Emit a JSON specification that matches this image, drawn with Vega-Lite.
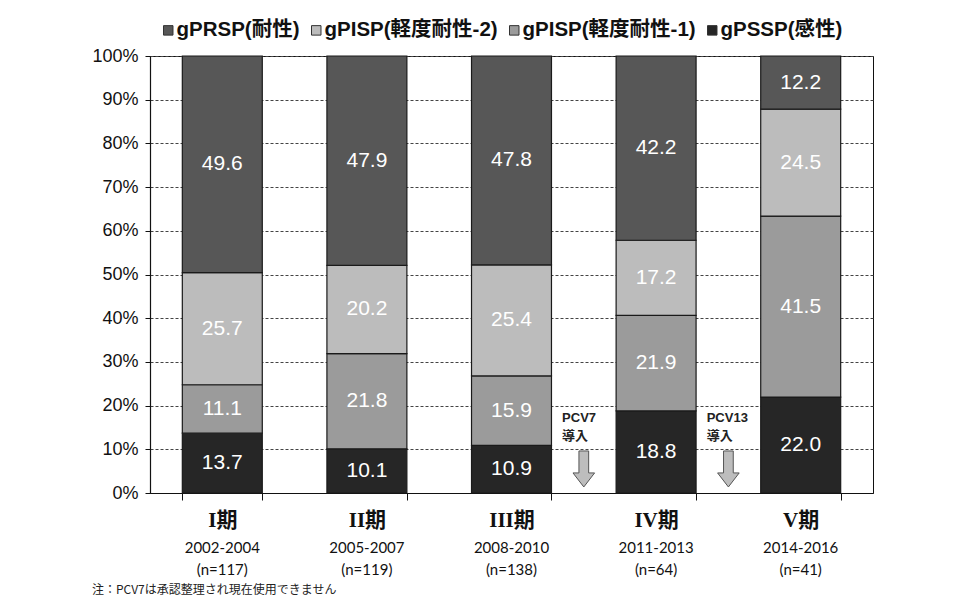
{
  "$schema": "https://vega.github.io/schema/vega-lite/v6.json",
  "width": 723,
  "height": 437,
  "autosize": {"type": "none"},
  "padding": {"left": 150, "top": 56, "right": 104, "bottom": 119},
  "background": "white",
  "datasets": {
    "shares": [
      {"period": "I期|2002-2004|(n=117)", "series": "gPSSP(感性)", "order": 1, "pct": 13.7},
      {"period": "I期|2002-2004|(n=117)", "series": "gPISP(軽度耐性-1)", "order": 2, "pct": 11.1},
      {"period": "I期|2002-2004|(n=117)", "series": "gPISP(軽度耐性-2)", "order": 3, "pct": 25.7},
      {"period": "I期|2002-2004|(n=117)", "series": "gPRSP(耐性)", "order": 4, "pct": 49.6},
      {"period": "II期|2005-2007|(n=119)", "series": "gPSSP(感性)", "order": 1, "pct": 10.1},
      {"period": "II期|2005-2007|(n=119)", "series": "gPISP(軽度耐性-1)", "order": 2, "pct": 21.8},
      {"period": "II期|2005-2007|(n=119)", "series": "gPISP(軽度耐性-2)", "order": 3, "pct": 20.2},
      {"period": "II期|2005-2007|(n=119)", "series": "gPRSP(耐性)", "order": 4, "pct": 47.9},
      {"period": "III期|2008-2010|(n=138)", "series": "gPSSP(感性)", "order": 1, "pct": 10.9},
      {"period": "III期|2008-2010|(n=138)", "series": "gPISP(軽度耐性-1)", "order": 2, "pct": 15.9},
      {"period": "III期|2008-2010|(n=138)", "series": "gPISP(軽度耐性-2)", "order": 3, "pct": 25.4},
      {"period": "III期|2008-2010|(n=138)", "series": "gPRSP(耐性)", "order": 4, "pct": 47.8},
      {"period": "IV期|2011-2013|(n=64)", "series": "gPSSP(感性)", "order": 1, "pct": 18.8},
      {"period": "IV期|2011-2013|(n=64)", "series": "gPISP(軽度耐性-1)", "order": 2, "pct": 21.9},
      {"period": "IV期|2011-2013|(n=64)", "series": "gPISP(軽度耐性-2)", "order": 3, "pct": 17.2},
      {"period": "IV期|2011-2013|(n=64)", "series": "gPRSP(耐性)", "order": 4, "pct": 42.2},
      {"period": "V期|2014-2016|(n=41)", "series": "gPSSP(感性)", "order": 1, "pct": 22.0},
      {"period": "V期|2014-2016|(n=41)", "series": "gPISP(軽度耐性-1)", "order": 2, "pct": 41.5},
      {"period": "V期|2014-2016|(n=41)", "series": "gPISP(軽度耐性-2)", "order": 3, "pct": 24.5},
      {"period": "V期|2014-2016|(n=41)", "series": "gPRSP(耐性)", "order": 4, "pct": 12.2}
    ],
    "events": [
      {"period": "IV期|2011-2013|(n=64)", "label": "PCV7\n導入"},
      {"period": "V期|2014-2016|(n=41)", "label": "PCV13\n導入"}
    ]
  },
  "title": {
    "text": "注：PCV7は承認整理され現在使用できません",
    "orient": "bottom",
    "anchor": "start",
    "frame": "group",
    "dx": -58,
    "offset": 8,
    "font": "Noto Sans CJK JP",
    "fontSize": 12,
    "fontWeight": "normal",
    "color": "#222"
  },
  "config": {
    "view": {"stroke": "#111", "strokeWidth": 1},
    "axisY": {
      "grid": true, "gridColor": "#444", "gridWidth": 1, "gridOpacity": 1, "gridDash": [3, 2],
      "domainColor": "#111", "domainWidth": 1.2,
      "tickColor": "#111", "tickSize": 5, "tickWidth": 1,
      "labelFont": "Liberation Sans", "labelFontSize": 18, "labelColor": "#111", "labelPadding": 7
    }
  },
  "resolve": {"axis": {"x": "independent"}},
  "layer": [
    {
      "data": {"name": "shares"},
      "transform": [
        {"stack": "pct", "groupby": ["period"], "sort": [{"field": "order"}], "offset": "normalize", "as": ["y0", "y1"]}
      ],
      "mark": {"type": "bar", "stroke": "#1a1a1a", "strokeWidth": 1.2},
      "encoding": {
        "x": {
          "field": "period", "type": "nominal", "sort": null,
          "scale": {"paddingInner": 0.447, "paddingOuter": 0.2235},
          "axis": {
            "title": null, "labelAngle": 0,
            "labelExpr": "datum.value ? split(datum.value, '|')[0] : ''",
            "labelFont": "Liberation Serif, Noto Sans CJK JP",
            "labelFontWeight": "bold", "labelFontSize": 21, "labelColor": "#111",
            "tickBand": "extent", "tickSize": 7, "tickColor": "#111",
            "domainColor": "#111", "domainWidth": 1.2, "labelPadding": 9
          }
        },
        "y": {
          "field": "y0", "type": "quantitative",
          "scale": {"domain": [0, 1]},
          "axis": {"title": null, "format": ".0%", "tickCount": 10, "grid": true, "gridColor": "#444", "gridDash": [3, 2]}
        },
        "y2": {"field": "y1"},
        "color": {
          "field": "series", "type": "nominal",
          "scale": {
            "domain": ["gPRSP(耐性)", "gPISP(軽度耐性-2)", "gPISP(軽度耐性-1)", "gPSSP(感性)"],
            "range": ["#575757", "#bcbcbc", "#9b9b9b", "#262626"]
          },
          "legend": {
            "orient": "none", "legendX": 8, "legendY": -36,
            "direction": "horizontal", "columns": 4, "title": null,
            "symbolType": "square", "symbolSize": 90,
            "symbolStrokeColor": "#333", "symbolStrokeWidth": 1,
            "labelFont": "Liberation Sans, Noto Sans CJK JP", "labelFontSize": 20.5,
            "labelFontWeight": "bold", "labelColor": "#111", "labelLimit": 300,
            "columnPadding": 6, "labelOffset": -2
          }
        }
      }
    },
    {
      "data": {"name": "shares"},
      "transform": [
        {"stack": "pct", "groupby": ["period"], "sort": [{"field": "order"}], "offset": "normalize", "as": ["y0", "y1"]},
        {"fold": ["y0", "y1"], "as": ["edge", "pos"]}
      ],
      "mark": {"type": "text", "color": "white", "font": "Liberation Sans", "fontSize": 21, "baseline": "middle"},
      "encoding": {
        "x": {
          "field": "period", "type": "nominal", "sort": null,
          "axis": {
            "title": null, "orient": "bottom", "labelAngle": 0,
            "labelExpr": "datum.value ? slice(split(datum.value, '|'), 1) : ''",
            "domain": false, "ticks": false,
            "labelFont": "Lato", "labelFontSize": 15, "labelLineHeight": 22,
            "labelPadding": 47, "labelColor": "#111"
          }
        },
        "y": {"aggregate": "mean", "field": "pos", "type": "quantitative"},
        "detail": {"field": "series"},
        "text": {"field": "pct", "type": "quantitative", "format": ".1f"}
      }
    },
    {
      "data": {"name": "events"},
      "mark": {
        "type": "point",
        "shape": "M-0.27,-1L0.27,-1L0.27,0.22L0.6,0.22L0,1L-0.6,0.22L-0.27,0.22Z",
        "size": 1296, "filled": true, "fill": "#bdbdbd", "stroke": "#555", "strokeWidth": 1, "opacity": 1,
        "xOffset": -72.3
      },
      "encoding": {
        "x": {"field": "period", "type": "nominal", "sort": null, "axis": null},
        "y": {"datum": 0.055, "type": "quantitative"}
      }
    },
    {
      "data": {"name": "events"},
      "mark": {
        "type": "text", "lineBreak": "\n", "align": "left", "baseline": "middle",
        "font": "Liberation Sans, Noto Sans CJK JP", "fontWeight": "bold", "fontSize": 13,
        "lineHeight": 18, "color": "#222", "xOffset": -94
      },
      "encoding": {
        "x": {"field": "period", "type": "nominal", "sort": null, "axis": null},
        "y": {"datum": 0.172, "type": "quantitative"},
        "text": {"field": "label"}
      }
    }
  ]
}
